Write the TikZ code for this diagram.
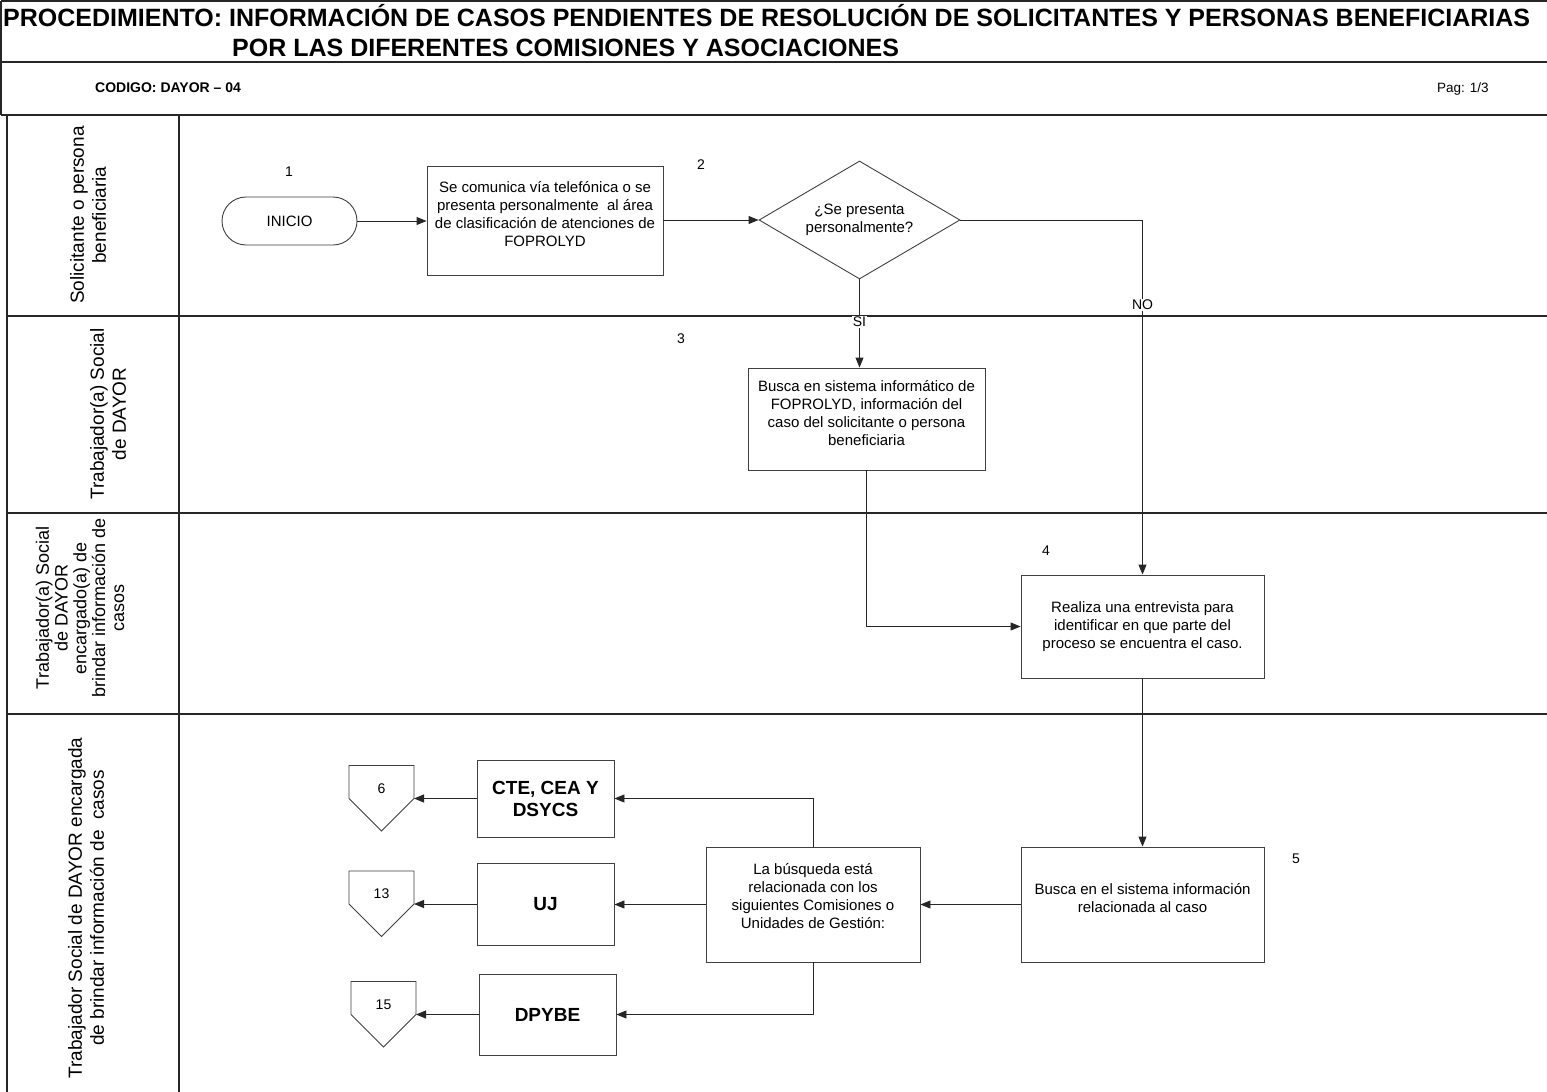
\documentclass[tikz,border=0pt]{standalone}
\usepackage{fontspec}
\setmainfont{Liberation Sans}
\usetikzlibrary{arrows.meta,shapes.geometric,calc}
\begin{document}
\begin{tikzpicture}[x=1pt,y=-1pt,
  frame/.style={draw=black!85, line width=1.6pt},
  lane/.style={draw=black!85, line width=1.3pt},
  box/.style={draw=black!75, line width=0.9pt, fill=white, align=center, inner sep=2pt, font=\fontsize{15}{18}\selectfont},
  bbox/.style={box, font=\bfseries\fontsize{19}{22}\selectfont},
  up/.style={text depth=#1},
  arr/.style={draw=black!85, line width=0.9pt, -{Triangle[length=10pt,width=8pt]}},
  conn/.style={draw=black!80, line width=0.9pt},
  lbl/.style={font=\fontsize{14}{16}\selectfont, inner sep=1pt},
  lanelbl/.style={rotate=90, align=center, font=\fontsize{19}{22}\selectfont, inner sep=0pt},
]
\useasboundingbox (0,0) rectangle (1547,1092);
\fill[white] (0,0) rectangle (1547,1092);

% header
\draw[frame] (1,1) -- (1547,1);
\draw[frame] (1,1) -- (1,115);
\draw[frame] (1,62) -- (1547,62);
\draw[frame] (1,115) -- (1547,115);
\node[anchor=base west, inner sep=0, font=\bfseries\fontsize{25}{28}\selectfont] (t1) at (3,26) {PROCEDIMIENTO: INFORMACIÓN DE CASOS PENDIENTES DE RESOLUCIÓN DE SOLICITANTES Y PERSONAS BENEFICIARIAS};
\node[anchor=base west, inner sep=0, font=\bfseries\fontsize{25}{28}\selectfont] (t2) at (232,56) {POR LAS DIFERENTES COMISIONES Y ASOCIACIONES};
\node[anchor=base west, inner sep=0, font=\bfseries\fontsize{14}{16}\selectfont] (cod) at (95,92) {CODIGO: DAYOR – 04};
\node[anchor=base west, inner sep=0, font=\fontsize{13.5}{16}\selectfont] (pag) at (1437,92) {Pag: 1/3};

% lanes
\draw[lane] (7,115) -- (7,1092);
\draw[lane] (179,115) -- (179,1092);
\draw[lane] (7,316) -- (1547,316);
\draw[lane] (7,513) -- (1547,513);
\draw[lane] (7,714) -- (1547,714);

\node[lanelbl] (l1) at (88,215) {Solicitante o persona\\beneficiaria};
\node[lanelbl] (l2) at (108,414) {Trabajador(a) Social\\de DAYOR};
\node[lanelbl, font=\fontsize{18}{18.8}\selectfont] (l3) at (80,608) {Trabajador(a) Social\\de DAYOR\\encargado(a) de\\brindar información de\\casos};
\node[lanelbl] (l4) at (86,908) {Trabajador Social de DAYOR encargada\\de brindar información de\ \ casos};

% step numbers
\node[lbl] (n1) at (289,172) {1};
\node[lbl] (n2) at (701,165) {2};
\node[lbl] (n3) at (681,339) {3};
\node[lbl] (n4) at (1046,551) {4};
\node[lbl] (n5) at (1296,859) {5};

% shapes
\node[box, rounded corners=24pt, minimum width=135pt, minimum height=48pt] (ini) at (289.5,221) {INICIO};
\node[box, up=13pt, minimum width=236pt, minimum height=109pt] (b2) at (545,220.5) {Se comunica vía telefónica o se\\presenta personalmente\ \ al área\\de clasificación de atenciones de\\FOPROLYD};
\node[box, diamond, aspect=1.7, inner sep=0pt, minimum width=201pt, minimum height=118pt] (dec) at (859.5,220) {¿Se presenta\\personalmente?};
\node[box, up=13pt, minimum width=237pt, minimum height=102pt] (b3) at (866.5,419) {Busca en sistema informático de\\FOPROLYD, información del\\caso del solicitante o persona\\beneficiaria};
\node[box, minimum width=243pt, minimum height=103pt] (b4) at (1142.5,626.5) {Realiza una entrevista para\\identificar en que parte del\\proceso se encuentra el caso.};
\node[box, up=13pt, minimum width=243pt, minimum height=115pt] (b5) at (1142.5,904.5) {Busca en el sistema información\\relacionada al caso};
\node[box, up=17pt, minimum width=214pt, minimum height=115pt] (b6) at (813,904.5) {La búsqueda está\\relacionada con los\\siguientes Comisiones o\\Unidades de Gestión:};
\node[bbox, minimum width=137pt, minimum height=77pt] (cte) at (545.5,798.5) {CTE, CEA Y\\DSYCS};
\node[bbox, minimum width=137pt, minimum height=82pt] (uj) at (545.5,904) {UJ};
\node[bbox, minimum width=137pt, minimum height=81pt] (dp) at (547.5,1014.5) {DPYBE};

% off-page connectors (shoulder point = named coordinate)
\coordinate (c6) at (414,798.5);
\coordinate (c13) at (414,904);
\coordinate (c15) at (416,1014.5);
\foreach \c/\t in {c6/6,c13/13,c15/15}{
  \draw[draw=black!75, line width=0.9pt, fill=white] (\c) -- ++(0,-33) -- ++(-65,0) -- ++(0,33) -- ++(32.5,32.5) -- cycle;
  \node[lbl] at ($(\c)+(-32.5,-10)$) {\t};
}

% connectors
\draw[arr] (ini.east) -- (b2.west |- ini.east);
\draw[arr] (b2.east |- dec.west) -- (dec.west);
\draw[arr] (dec.south) -- node[lbl, pos=0.48, fill=white] {SI} (b3.north -| dec.south);
\draw[arr] (dec.east) -| node[lbl, pos=0.62, fill=white] {NO} (b4.north);
\draw[arr] (b3.south) |- (b4.west);
\draw[arr] (b4.south) -- (b5.north);
\draw[arr] (b5.west) -- (b6.east);
\draw[arr] (b6.north) |- (cte.east);
\draw[arr] (b6.west) -- (uj.east |- b6.west);
\draw[arr] (b6.south) |- (dp.east);
\draw[arr] (cte.west) -- (c6);
\draw[arr] (uj.west) -- (c13);
\draw[arr] (dp.west) -- (c15);
\end{tikzpicture}
\end{document}
